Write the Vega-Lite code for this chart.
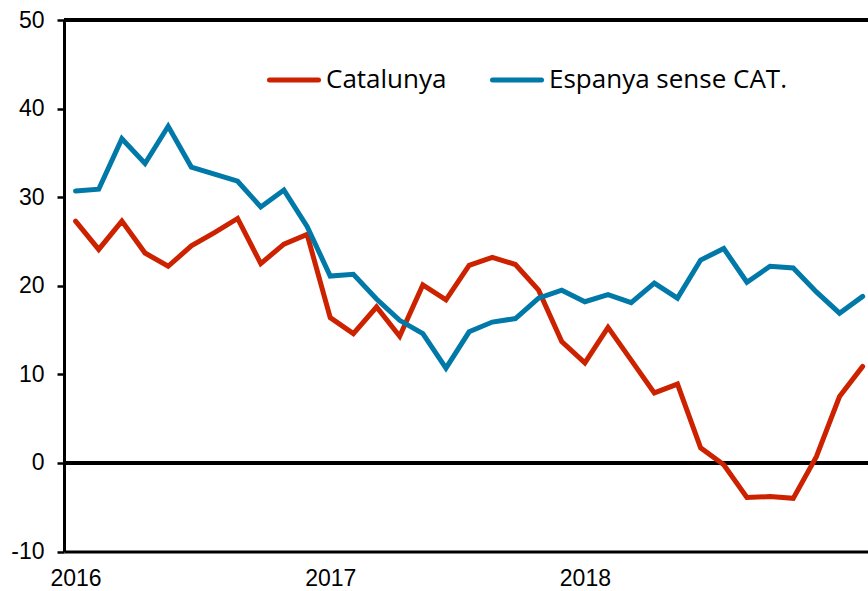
{
  "$schema": "https://vega.github.io/schema/vega-lite/v6.json",
  "width": 804,
  "height": 531.5,
  "autosize": {"type": "none"},
  "padding": {"left": 64, "top": 20, "right": 0, "bottom": 40},
  "background": "white",
  "config": {"view": {"stroke": null}, "font": "Liberation Sans"},
  "data": {"values": [
    {"t":0,"serie":"Catalunya","valor":27.3},{"t":1,"serie":"Catalunya","valor":24.1},{"t":2,"serie":"Catalunya","valor":27.3},{"t":3,"serie":"Catalunya","valor":23.7},{"t":4,"serie":"Catalunya","valor":22.2},{"t":5,"serie":"Catalunya","valor":24.5},{"t":6,"serie":"Catalunya","valor":26.0},{"t":7,"serie":"Catalunya","valor":27.6},{"t":8,"serie":"Catalunya","valor":22.5},{"t":9,"serie":"Catalunya","valor":24.7},{"t":10,"serie":"Catalunya","valor":25.8},{"t":11,"serie":"Catalunya","valor":16.4},{"t":12,"serie":"Catalunya","valor":14.6},{"t":13,"serie":"Catalunya","valor":17.6},{"t":14,"serie":"Catalunya","valor":14.3},{"t":15,"serie":"Catalunya","valor":20.1},{"t":16,"serie":"Catalunya","valor":18.4},{"t":17,"serie":"Catalunya","valor":22.3},{"t":18,"serie":"Catalunya","valor":23.2},{"t":19,"serie":"Catalunya","valor":22.4},{"t":20,"serie":"Catalunya","valor":19.5},{"t":21,"serie":"Catalunya","valor":13.7},{"t":22,"serie":"Catalunya","valor":11.3},{"t":23,"serie":"Catalunya","valor":15.3},{"t":24,"serie":"Catalunya","valor":11.6},{"t":25,"serie":"Catalunya","valor":7.9},{"t":26,"serie":"Catalunya","valor":8.9},{"t":27,"serie":"Catalunya","valor":1.7},{"t":28,"serie":"Catalunya","valor":-0.2},{"t":29,"serie":"Catalunya","valor":-3.9},{"t":30,"serie":"Catalunya","valor":-3.8},{"t":31,"serie":"Catalunya","valor":-4.0},{"t":32,"serie":"Catalunya","valor":0.7},{"t":33,"serie":"Catalunya","valor":7.5},{"t":34,"serie":"Catalunya","valor":10.9},
    {"t":0,"serie":"Espanya sense CAT.","valor":30.7},{"t":1,"serie":"Espanya sense CAT.","valor":30.9},{"t":2,"serie":"Espanya sense CAT.","valor":36.6},{"t":3,"serie":"Espanya sense CAT.","valor":33.8},{"t":4,"serie":"Espanya sense CAT.","valor":38.0},{"t":5,"serie":"Espanya sense CAT.","valor":33.4},{"t":6,"serie":"Espanya sense CAT.","valor":32.6},{"t":7,"serie":"Espanya sense CAT.","valor":31.8},{"t":8,"serie":"Espanya sense CAT.","valor":28.9},{"t":9,"serie":"Espanya sense CAT.","valor":30.8},{"t":10,"serie":"Espanya sense CAT.","valor":26.7},{"t":11,"serie":"Espanya sense CAT.","valor":21.1},{"t":12,"serie":"Espanya sense CAT.","valor":21.3},{"t":13,"serie":"Espanya sense CAT.","valor":18.5},{"t":14,"serie":"Espanya sense CAT.","valor":16.1},{"t":15,"serie":"Espanya sense CAT.","valor":14.6},{"t":16,"serie":"Espanya sense CAT.","valor":10.7},{"t":17,"serie":"Espanya sense CAT.","valor":14.8},{"t":18,"serie":"Espanya sense CAT.","valor":15.9},{"t":19,"serie":"Espanya sense CAT.","valor":16.3},{"t":20,"serie":"Espanya sense CAT.","valor":18.6},{"t":21,"serie":"Espanya sense CAT.","valor":19.5},{"t":22,"serie":"Espanya sense CAT.","valor":18.2},{"t":23,"serie":"Espanya sense CAT.","valor":19.0},{"t":24,"serie":"Espanya sense CAT.","valor":18.1},{"t":25,"serie":"Espanya sense CAT.","valor":20.3},{"t":26,"serie":"Espanya sense CAT.","valor":18.6},{"t":27,"serie":"Espanya sense CAT.","valor":22.9},{"t":28,"serie":"Espanya sense CAT.","valor":24.2},{"t":29,"serie":"Espanya sense CAT.","valor":20.4},{"t":30,"serie":"Espanya sense CAT.","valor":22.2},{"t":31,"serie":"Espanya sense CAT.","valor":22.0},{"t":32,"serie":"Espanya sense CAT.","valor":19.3},{"t":33,"serie":"Espanya sense CAT.","valor":16.9},{"t":34,"serie":"Espanya sense CAT.","valor":18.8}
  ]},
  "layer": [
    {
      "mark": {"type": "rule", "color": "black", "strokeWidth": 2.5},
      "encoding": {"y": {"datum": 0, "type": "quantitative"}}
    },
    {
      "mark": {"type": "rule", "color": "black", "strokeWidth": 2.5},
      "encoding": {"y": {"datum": 50, "type": "quantitative"}}
    },
    {
      "mark": {"type": "line", "strokeWidth": 5, "strokeJoin": "miter", "strokeCap": "round"},
      "encoding": {
        "x": {
          "field": "t", "type": "quantitative",
          "scale": {"domain": [-0.5, 34.23], "nice": false, "zero": false},
          "axis": {
            "values": [0, 11, 22],
            "labelExpr": "datum.value == 0 ? '2016' : datum.value == 11 ? '2017' : '2018'",
            "title": null, "grid": false, "ticks": false,
            "domainColor": "black", "domainWidth": 3,
            "labelFontSize": 23, "labelColor": "black", "labelPadding": 16,
            "labelFont": "Liberation Sans", "labelAlign": "center"
          }
        },
        "y": {
          "field": "valor", "type": "quantitative",
          "scale": {"domain": [-10, 50], "nice": false, "zero": false},
          "axis": {
            "values": [-10, 0, 10, 20, 30, 40, 50],
            "labelExpr": "datum.value < 0 ? '-' + abs(datum.value) : '' + datum.value",
            "title": null, "grid": false,
            "domainColor": "black", "domainWidth": 3,
            "tickColor": "black", "tickWidth": 2.5, "tickSize": 7,
            "labelFontSize": 23, "labelColor": "black", "labelPadding": 13,
            "labelFont": "Liberation Sans"
          }
        },
        "color": {
          "field": "serie", "type": "nominal",
          "scale": {"domain": ["Catalunya", "Espanya sense CAT."], "range": ["#CC2200", "#0079A9"]},
          "legend": {
            "title": null,
            "orient": "none",
            "legendX": 203,
            "legendY": 33,
            "direction": "horizontal",
            "symbolType": "stroke",
            "symbolSize": 2401,
            "symbolStrokeWidth": 5,
            "labelFont": "Open Sans",
            "labelFontSize": 26,
            "labelColor": "black",
            "labelOffset": 5,
            "columnPadding": 35,
            "labelLimit": 400,
            "encode": {"symbols": {"update": {"strokeCap": {"value": "round"}}}}
          }
        }
      }
    }
  ]
}
